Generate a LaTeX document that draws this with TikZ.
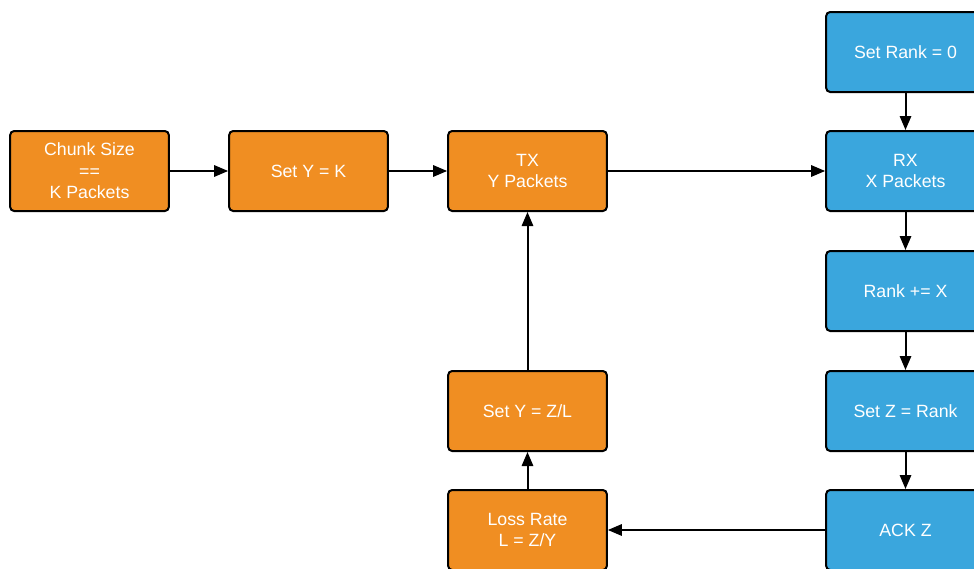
\documentclass[tikz,border=0pt]{standalone}
\usepackage{fontspec}
\setmainfont{Liberation Sans}
\usetikzlibrary{arrows.meta}
\definecolor{txorange}{RGB}{240,142,34}
\definecolor{rxblue}{RGB}{58,166,221}
\begin{document}
\begin{tikzpicture}[x=0.75pt,y=-0.75pt,
    flow/.style={-{Triangle[length=10.5pt,width=8.5pt]},line width=1.5pt}]
    \tikzstyle{block}=[draw=black,line width=1.5pt,rounded corners=3pt,
        minimum width=119pt,minimum height=60pt,inner sep=0pt,
        text=white,font=\fontsize{13.3}{16.2}\selectfont,align=center]

    \clip (0,0) rectangle (974,568);

    % sender side
    \node[block, fill=txorange] (chunk) at (89.5,171) {Chunk Size\\==\\K Packets};
    \node[block, fill=txorange] (sety) at (308.5,171) {Set Y = K};
    \node[block, fill=txorange] (tx) at (527.5,171) {TX\\Y Packets};
    \node[block, fill=txorange] (setyzl) at (527.5,411) {Set Y = Z/L};
    \node[block, fill=txorange] (loss) at (527.5,530) {Loss Rate\\L = Z/Y};

    % receiver side
    \node[block, fill=rxblue] (rank0) at (905.5,52) {Set Rank = 0};
    \node[block, fill=rxblue] (rx) at (905.5,171) {RX\\X Packets};
    \node[block, fill=rxblue] (rankx) at (905.5,291) {Rank += X};
    \node[block, fill=rxblue] (setz) at (905.5,411) {Set Z = Rank};
    \node[block, fill=rxblue] (ack) at (905.5,530) {ACK Z};

    \draw[flow] (chunk) -- (sety);
    \draw[flow] (sety) -- (tx);
    \draw[flow] (tx) -- (rx);
    \draw[flow] (rank0) -- (rx);
    \draw[flow] (rx) -- (rankx);
    \draw[flow] (rankx) -- (setz);
    \draw[flow] (setz) -- (ack);
    \draw[flow] (ack) -- (loss);
    \draw[flow] (loss) -- (setyzl);
    \draw[flow] (setyzl) -- (tx);

\end{tikzpicture}
\end{document}
